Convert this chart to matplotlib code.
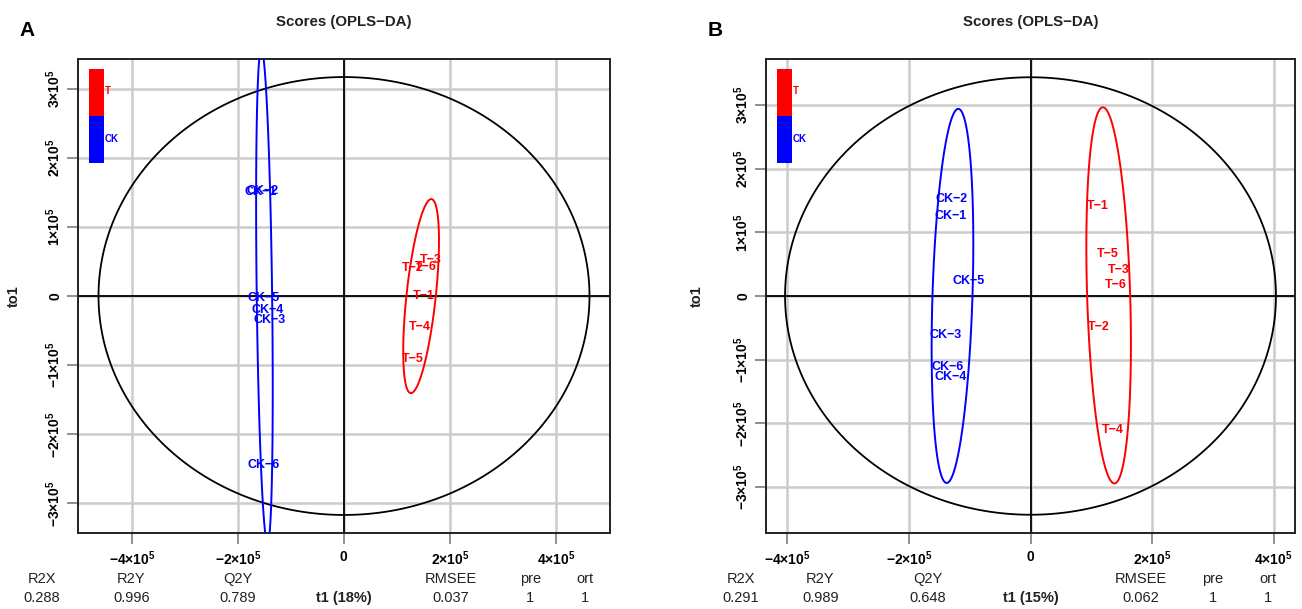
import numpy as np
import matplotlib
matplotlib.use("Agg")
import matplotlib.pyplot as plt
from matplotlib.patches import Rectangle, Polygon

plt.rcParams['font.family'] = ['Liberation Sans', 'DejaVu Sans']
plt.rcParams['mathtext.fontset'] = 'custom'
plt.rcParams['mathtext.rm'] = 'Liberation Sans'
plt.rcParams['mathtext.bf'] = 'Liberation Sans:bold'

# ---------------- data (scores, units of 1e5) ----------------
ck_labels = ["CK−1", "CK−2", "CK−3", "CK−4", "CK−5", "CK−6"]
t_labels = ["T−1", "T−2", "T−3", "T−4", "T−5", "T−6"]

A_ck_t1 = [-1.58, -1.54, -1.41, -1.44, -1.52, -1.52]
A_ck_to1 = [1.50, 1.52, -0.35, -0.20, -0.03, -2.44]
A_t_t1 = [1.51, 1.30, 1.64, 1.43, 1.30, 1.55]
A_t_to1 = [0.00, 0.41, 0.52, -0.45, -0.91, 0.42]

B_ck_t1 = [-1.31, -1.29, -1.40, -1.32, -1.01, -1.37]
B_ck_to1 = [1.25, 1.53, -0.61, -1.27, 0.23, -1.12]
B_t_t1 = [1.10, 1.12, 1.46, 1.35, 1.27, 1.41]
B_t_to1 = [1.41, -0.49, 0.41, -2.10, 0.66, 0.17]

stat_names = ["R2X", "R2Y", "Q2Y", "RMSEE", "pre", "ort"]
A_stats = ["0.288", "0.996", "0.789", "0.037", "1", "1"]
B_stats = ["0.291", "0.989", "0.648", "0.062", "1", "1"]
A_xlabel = "t1 (18%)"
B_xlabel = "t1 (15%)"
panel_letters = ["A", "B"]
title = "Scores (OPLS−DA)"
ylabel = "to1"
group_names = ["T", "CK"]

SCALE = 1e5
RED = "#FF0000"
BLUE = "#0000FF"
GRID = "#CCCCCC"


def tick_fmt(v):
    k = int(round(v / SCALE))
    if k == 0:
        return r"$\mathbf{0}$"
    return r"$\mathbf{%d{\times}10^{5}}$" % k


def class_ellipse(xs, ys):
    xs = np.asarray(xs) * SCALE
    ys = np.asarray(ys) * SCALE
    cov = np.cov(np.vstack([xs, ys]))
    L = np.linalg.cholesky(cov)
    r = np.sqrt(-2 * np.log(0.05))  # chi2(2) 95%
    th = np.linspace(0, 2 * np.pi, 240, endpoint=False)
    circ = np.vstack([np.cos(th), np.sin(th)])
    pts = L @ circ * r
    return np.column_stack([xs.mean() + pts[0], ys.mean() + pts[1]])


def hotelling(xs, ys):
    xs = np.asarray(xs) * SCALE
    ys = np.asarray(ys) * SCALE
    n = len(xs)
    d = n - 2
    qf = d / 2 * ((0.05) ** (-2 / d) - 1)
    hot = (n - 1) * 2 * (n ** 2 - 1) / (n ** 2 * (n - 2)) * qf
    sx = np.sqrt(np.var(xs, ddof=1) * hot)
    sy = np.sqrt(np.var(ys, ddof=1) * hot)
    th = np.linspace(0, 2 * np.pi, 300, endpoint=False)
    return np.column_stack([sx * np.cos(th), sy * np.sin(th)])


fig = plt.figure(figsize=(13.02, 6.09), dpi=100)
W, H = 1302, 609

panels = [
    dict(rect=(78, 59, 610, 533), xlim=5.02e5, ylim=3.43e5,
         ck=(A_ck_t1, A_ck_to1), t=(A_t_t1, A_t_to1), stats=A_stats,
         xlab=A_xlabel, letter=(27, 30), statx=[-0.068, 0.1, 0.3, 0.7, 0.85, 0.953], ylabx=-0.12),
    dict(rect=(766, 59, 1295, 533), xlim=4.35e5, ylim=3.72e5,
         ck=(B_ck_t1, B_ck_to1), t=(B_t_t1, B_t_to1), stats=B_stats,
         xlab=B_xlabel, letter=(715, 30), statx=[-0.048, 0.103, 0.306, 0.709, 0.844, 0.949], ylabx=-0.13),
]

for i, p in enumerate(panels):
    l, t, r, b = p["rect"]
    ax = fig.add_axes([l / W, 1 - b / H, (r - l) / W, (b - t) / H])
    ax.set_xlim(-p["xlim"], p["xlim"])
    ax.set_ylim(-p["ylim"], p["ylim"])
    ticks_x = np.arange(-4, 5, 2) * SCALE
    ticks_y = np.arange(-3, 4, 1) * SCALE
    ax.set_xticks(ticks_x)
    ax.set_yticks(ticks_y)
    ax.set_xticklabels([tick_fmt(v) for v in ticks_x], fontsize=10)
    ax.set_yticklabels([tick_fmt(v) for v in ticks_y], fontsize=10, rotation=90, va='center')
    ax.tick_params(axis='both', length=8, width=1.3, color='#888888', pad=4)
    ax.tick_params(axis='y', pad=2.5)
    for v in ticks_x:
        ax.axvline(v, color=GRID, lw=1.8, zorder=0)
    for v in ticks_y:
        ax.axhline(v, color=GRID, lw=1.8, zorder=0)
    ax.axvline(0, color='black', lw=1.3, zorder=1)
    ax.axhline(0, color='black', lw=1.3, zorder=1)
    for s in ax.spines.values():
        s.set_linewidth(1.4)
        s.set_color('#222222')

    all_x = list(p["ck"][0]) + list(p["t"][0])
    all_y = list(p["ck"][1]) + list(p["t"][1])
    ax.add_patch(Polygon(hotelling(all_x, all_y), closed=True, fill=False,
                         edgecolor='black', lw=1.3, zorder=2))
    ax.add_patch(Polygon(class_ellipse(*p["ck"]), closed=True, fill=False,
                         edgecolor=BLUE, lw=1.4, zorder=3))
    ax.add_patch(Polygon(class_ellipse(*p["t"]), closed=True, fill=False,
                         edgecolor=RED, lw=1.4, zorder=3))

    for lab, x, y in zip(ck_labels, *p["ck"]):
        ax.text(x * SCALE, y * SCALE, lab, color=BLUE, fontsize=9, fontweight='bold',
                ha='center', va='center', zorder=4)
    for lab, x, y in zip(t_labels, *p["t"]):
        ax.text(x * SCALE, y * SCALE, lab, color=RED, fontsize=9, fontweight='bold',
                ha='center', va='center', zorder=4)

    # colour key
    ax.add_patch(Rectangle((0.021, 0.880), 0.028, 0.099, transform=ax.transAxes,
                           facecolor=RED, edgecolor='none', zorder=5))
    ax.add_patch(Rectangle((0.021, 0.781), 0.028, 0.099, transform=ax.transAxes,
                           facecolor=BLUE, edgecolor='none', zorder=5))
    ax.text(0.050, 0.932, group_names[0], transform=ax.transAxes, color=RED,
            fontsize=7, fontweight='bold', ha='left', va='center', zorder=5)
    ax.text(0.050, 0.831, group_names[1], transform=ax.transAxes, color=BLUE,
            fontsize=7, fontweight='bold', ha='left', va='center', zorder=5)

    ax.text(0.5, 1.078, title, transform=ax.transAxes, fontsize=10.8,
            fontweight='bold', ha='center', va='center', color='#222222')
    ax.text(p["ylabx"], 0.5, ylabel, transform=ax.transAxes, fontsize=10.5,
            fontweight='bold', ha='center', va='center', rotation=90, color='#222222')

    y1 = (b - 579) / (b - t)
    y2 = (b - 598) / (b - t)
    for name, val, xf in zip(stat_names, p["stats"], p["statx"]):
        ax.text(xf, y1, name, transform=ax.transAxes, fontsize=10.5, ha='center',
                va='center', color='#222222')
        ax.text(xf, y2, val, transform=ax.transAxes, fontsize=10.5, ha='center',
                va='center', color='#222222')
    ax.text(0.5, y2, p["xlab"], transform=ax.transAxes, fontsize=10.5, fontweight='bold',
            ha='center', va='center', color='#222222')

    lx, ly = p["letter"]
    fig.text(lx / W, 1 - ly / H, panel_letters[i], fontsize=15, fontweight='bold',
             ha='center', va='center')

fig.savefig("out.png", dpi=100)
